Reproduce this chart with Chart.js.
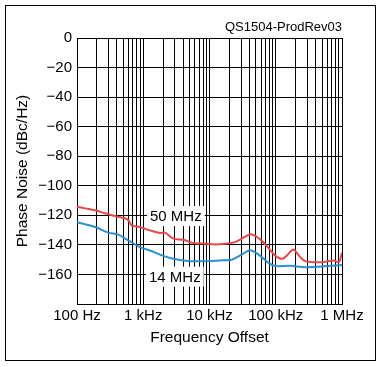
<!DOCTYPE html>
<html><head><meta charset="utf-8">
<script src="https://cdn.jsdelivr.net/npm/chart.js@4"></script>
<style>html,body{margin:0;padding:0;background:#fff;}canvas{display:block}</style>
</head><body>
<canvas id="c" width="383" height="367"></canvas>
<script>
// ---- data ----
const seriesNames = ['50 MHz', '14 MHz'];
const freq50 = [100, 132, 187, 265, 375, 530, 600, 669, 893, 1265, 1790, 2130, 2840, 4020, 5690, 9070, 12100, 17100, 24300, 32000, 40800, 50300, 62000, 76400, 97500, 124300, 147800, 183700, 222000, 279300, 499000, 750000, 891000, 1000000];
const noise50 = [-114.2, -115.3, -116.6, -118.6, -120.5, -122.0, -123.5, -126.8, -127.9, -130.2, -132.0, -131.7, -135.8, -136.5, -138.8, -139.2, -139.7, -139.2, -138.1, -135.3, -132.9, -134.2, -137.3, -141.7, -147.1, -149.4, -147.1, -143.1, -147.1, -151.0, -151.7, -150.5, -151.7, -145.4];
const freq14 = [100, 187, 297, 420, 595, 893, 1265, 1790, 2840, 5080, 9070, 14400, 21600, 31000, 40800, 50300, 61400, 76400, 97500, 164000, 279300, 499000, 1000000];
const noise14 = [-124.7, -127.9, -131.7, -133.1, -137.0, -141.5, -143.8, -146.6, -149.4, -151.0, -151.0, -150.5, -150.0, -146.4, -143.7, -145.4, -148.3, -151.9, -154.2, -154.2, -155.1, -154.6, -153.6];
const decadeTicks = [100, 1000, 10000, 100000, 1000000];
const decadeLabels = ['100 Hz', '1 kHz', '10 kHz', '100 kHz', '1 MHz'];
const levelTicks = [0, -20, -40, -60, -80, -100, -120, -140, -160, -180];
const chartTag = 'QS1504-ProdRev03';
const xTitle = 'Frequency Offset';
const yTitle = 'Phase Noise (dBc/Hz)';

// ---- build ----
const FONT = '"Liberation Sans", Arial, sans-serif';
const gridFreqs = [];
decadeTicks.forEach((d, i) => {
  if (i < decadeTicks.length - 1) { for (let k = 1; k <= 9; k++) gridFreqs.push(d * k); }
  else gridFreqs.push(d);
});
const pts = (fs, vs) => fs.map((f, i) => ({x: f, y: vs[i]}));

const seriesLabelPlugin = {
  id: 'seriesLabels',
  afterDatasetsDraw(chart, args, opts) {
    const {ctx, scales: {x, y}} = chart;
    ctx.save();
    ctx.font = '15px ' + FONT;
    ctx.textAlign = 'center';
    ctx.textBaseline = 'middle';
    opts.anchors.forEach((a, i) => {
      const text = chart.data.datasets[i].label;
      const px = x.getPixelForValue(a.f), py = y.getPixelForValue(a.v);
      const w = ctx.measureText(text).width;
      ctx.fillStyle = '#fff';
      ctx.fillRect(px - w / 2 - 3, py - 10, w + 6, 20);
      ctx.fillStyle = '#000';
      ctx.fillText(text, px, py + 1);
    });
    ctx.restore();
  }
};
const framePlugin = {
  id: 'frame',
  afterDraw(chart) {
    const ctx = chart.ctx;
    ctx.save();
    ctx.strokeStyle = '#000';
    ctx.lineWidth = 1;
    ctx.strokeRect(5.5, 5.5, 370, 355);
    ctx.restore();
  }
};

new Chart(document.getElementById('c'), {
  type: 'line',
  data: {
    datasets: [
      {label: seriesNames[0], data: pts(freq50, noise50), borderColor: '#e8474a', borderWidth: 2, pointRadius: 0, tension: 0.35, fill: false},
      {label: seriesNames[1], data: pts(freq14, noise14), borderColor: '#2b8fcf', borderWidth: 2, pointRadius: 0, tension: 0.35, fill: false}
    ]
  },
  options: {
    responsive: false,
    animation: false,
    devicePixelRatio: 1,
    layout: {padding: {top: 20, right: 41, left: 0, bottom: 0}},
    plugins: {
      legend: {display: false},
      tooltip: {enabled: false},
      title: {display: true, text: chartTag, align: 'end', color: '#000', font: {family: FONT, size: 13, weight: 'normal'}, padding: {top: 0, bottom: 2.4}},
      seriesLabels: {anchors: [{f: 3100, v: -120.5}, {f: 3000, v: -161.5}]}
    },
    scales: {
      x: {
        type: 'logarithmic', min: 100, max: 1000000,
        afterBuildTicks: s => { s.ticks = gridFreqs.map(v => ({value: v})); },
        afterFit: s => { s.height = 63; s.paddingLeft = 0; s.paddingRight = 0; },
        ticks: {autoSkip: false, maxRotation: 0, minRotation: 0, padding: 3, color: '#000', font: {family: FONT, size: 15},
          callback: v => { const i = decadeTicks.indexOf(v); return i >= 0 ? decadeLabels[i] : ''; }},
        grid: {color: '#000', lineWidth: 1, drawTicks: false},
        border: {color: '#000'},
        title: {display: true, text: xTitle, color: '#000', font: {family: FONT, size: 15.5}, padding: {top: 0, bottom: 20}}
      },
      y: {
        min: -180, max: 0,
        afterBuildTicks: s => { s.ticks = levelTicks.map(v => ({value: v})); },
        afterFit: s => { s.width = 77; s.paddingTop = 0; s.paddingBottom = 0; },
        ticks: {padding: 5, color: '#000', font: {family: FONT, size: 15},
          callback: v => v === -180 ? '' : (v < 0 ? '\u2212' + Math.abs(v) : String(v))},
        grid: {color: '#000', lineWidth: 1, drawTicks: false},
        border: {color: '#000'},
        title: {display: true, text: yTitle, color: '#000', font: {family: FONT, size: 15.5}, padding: {top: 13, bottom: 0}}
      }
    }
  },
  plugins: [seriesLabelPlugin, framePlugin]
});
</script>
</body></html>
